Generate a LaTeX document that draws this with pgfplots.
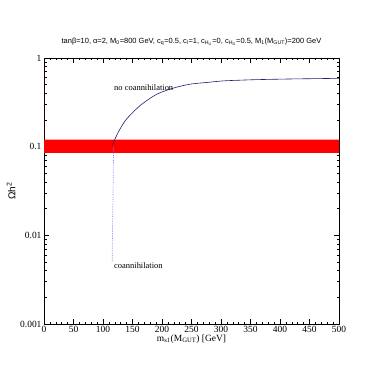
\documentclass[border=0pt]{standalone}
\usepackage{fontspec}
\setmainfont{Liberation Serif}
\newfontfamily\helv{Liberation Sans}
\usepackage{pgfplots}
\pgfplotsset{compat=1.18}
\definecolor{navy}{rgb}{0.12,0.12,0.45}
\definecolor{lblue}{rgb}{0.5,0.5,1}
\begin{document}
\begin{tikzpicture}[x=1bp,y=1bp]
\path (0,0) rectangle (382,382);
\begin{axis}[
  at={(44bp,58bp)}, anchor=south west,
  width=295bp, height=266bp, scale only axis,
  xmin=0, xmax=500, ymin=0.001, ymax=1, ymode=log,
  xtick={0,50,...,500}, minor x tick num=4,
  ytick={0.001,0.01,0.1,1}, yticklabels={0.001,0.01,0.1,1},
  tick align=inside, tick pos=both,
  major tick length=5bp, minor tick length=2.5bp,
  axis line style={line width=0.8pt}, every tick/.style={black,line width=0.5pt},
  /pgf/number format/assume math mode=true,
  tick label style={font=\fontsize{9.5}{11}\selectfont},
  xticklabel style={yshift=1bp},
  yticklabel style={xshift=1bp},
  xlabel={m\textsubscript{s1}(M\textsubscript{GUT}) [GeV]},
  xlabel style={font=\fontsize{9.5}{11}\selectfont, yshift=5bp},
  ylabel={\helv Ωh\textsuperscript{2}},
  ylabel style={font=\fontsize{10}{12}\selectfont, yshift=-2bp},
  title={\helv tanβ=10, α=2, M\textsubscript{0}=800 GeV, c\textsubscript{q}=0.5, c\textsubscript{l}=1, c\textsubscript{H\textsubscript{U}}=0, c\textsubscript{H\textsubscript{D}}=0.5, M\textsubscript{1}(M\textsubscript{GUT})=200 GeV},
  title style={font=\fontsize{7.5}{9}\selectfont, yshift=3bp},
  clip=true,
]
\addplot[draw=none, fill=red] coordinates {(0,0.085) (500,0.085) (500,0.12) (0,0.12)} \closedcycle;
\addplot[lblue, densely dotted, line width=0.7pt] coordinates {(118,0.1) (117,0.03) (116,0.01) (115.5,0.005)};
\addplot[navy, line width=0.6pt, smooth] coordinates {
(115.8,0.104) (120.3,0.122) (128.8,0.158) (140,0.205) (162.7,0.29) (191,0.39)
(219,0.457) (247,0.506) (276,0.53) (304,0.552) (332,0.562) (360,0.57) (417,0.58) (460,0.585) (500,0.59)};
\node[font=\fontsize{8.5}{10}\selectfont] at (axis cs:169,0.46) {no coannihilation};
\node[font=\fontsize{8.5}{10}\selectfont] at (axis cs:160,0.0046) {coannihilation};
\end{axis}
\end{tikzpicture}
\end{document}
